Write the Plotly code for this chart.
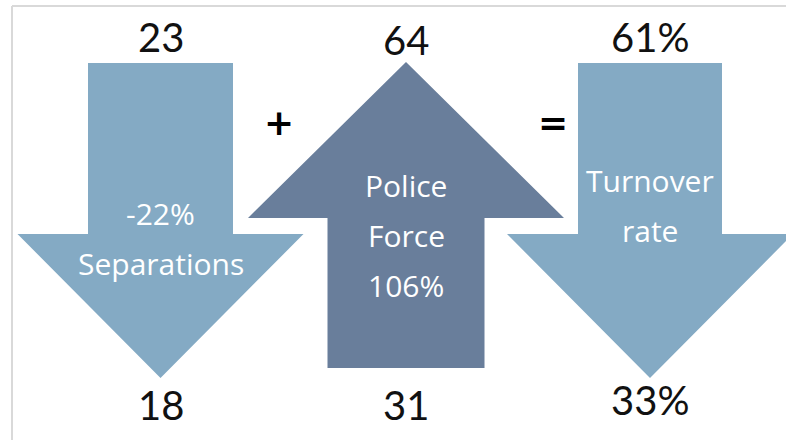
import plotly.graph_objects as go

# ---- data ----
measures = ["Separations", "Police Force", "Turnover rate"]
top_values = ["23", "64", "61%"]
bottom_values = ["18", "31", "33%"]
inner_lines = [["-22%", "Separations"], ["Police", "Force", "106%"], ["Turnover", "rate"]]
directions = ["down", "up", "down"]
operators = ["+", "="]

# ---- layout constants (pixel space) ----
W, H = 786, 440
centers = [160.5, 406, 650]
shaft_half = [72.5, 78.5, 72]
head_half = [143, 158, 143]
LIGHT = "#84AAC4"
DARK = "#697E9B"
colors = [LIGHT, DARK, LIGHT]

fig = go.Figure()

def arrow_poly(cx, sh, hh, direction):
    if direction == "down":
        top, base, tip = 63, 234, 378
        xs = [cx - sh, cx + sh, cx + sh, cx + hh, cx, cx - hh, cx - sh, cx - sh]
        ys = [top, top, base, base, tip, base, base, top]
    else:
        bottom, base, tip = 368, 218, 62
        xs = [cx - sh, cx + sh, cx + sh, cx + hh, cx, cx - hh, cx - sh, cx - sh]
        ys = [bottom, bottom, base, base, tip, base, base, bottom]
    return xs, ys

for i, m in enumerate(measures):
    xs, ys = arrow_poly(centers[i], shaft_half[i], head_half[i], directions[i])
    fig.add_trace(go.Scatter(x=xs, y=ys, fill="toself", fillcolor=colors[i],
                             line=dict(width=0, color=colors[i]), mode="lines",
                             hoverinfo="skip", showlegend=False, name=m))

# frame lines
fig.add_shape(type="line", x0=12, x1=W, y0=6, y1=6, line=dict(color="#D9D9D9", width=2))
fig.add_shape(type="line", x0=12, x1=12, y0=6, y1=H, line=dict(color="#D9D9D9", width=2))

num_font = dict(family="Lato, 'Open Sans', sans-serif", size=40, color="#111111")
top_y = [37, 40, 37]
bot_y = [405, 405, 400]
for i in range(3):
    fig.add_annotation(x=centers[i], y=top_y[i], text=top_values[i], showarrow=False,
                       font=num_font, xanchor="center", yanchor="middle")
    fig.add_annotation(x=centers[i], y=bot_y[i], text=bottom_values[i], showarrow=False,
                       font=num_font, xanchor="center", yanchor="middle")

first_line_y = [213, 185, 180]
line_step = 50
for i in range(3):
    for j, ln in enumerate(inner_lines[i]):
        fig.add_annotation(x=centers[i], y=first_line_y[i] + j * line_step, text=ln,
                           showarrow=False,
                           font=dict(family="'Open Sans', Lato, sans-serif", size=30, color="white"),
                           xanchor="center", yanchor="middle")

op_x = [279, 553]
for i, op in enumerate(operators):
    fig.add_annotation(x=op_x[i], y=122, text="<b>" + op + "</b>", showarrow=False,
                       font=dict(family="'DejaVu Sans', sans-serif", size=36, color="black"),
                       xanchor="center", yanchor="middle")

fig.update_layout(width=W, height=H, margin=dict(l=0, r=0, t=0, b=0),
                  paper_bgcolor="white", plot_bgcolor="white",
                  xaxis=dict(range=[0, W], visible=False, fixedrange=True),
                  yaxis=dict(range=[H, 0], visible=False, fixedrange=True))

fig.write_html("out.html", config={"displayModeBar": False},
               post_script="document.body.style.margin='0';document.body.style.overflow='hidden';")
